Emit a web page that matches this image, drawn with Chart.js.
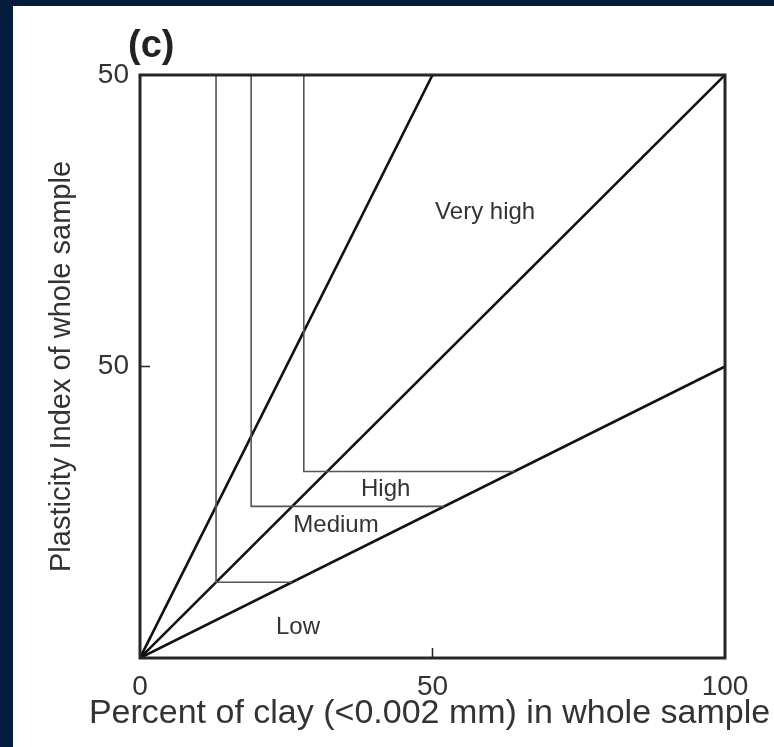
<!DOCTYPE html>
<html>
<head>
<meta charset="utf-8">
<script src="https://cdn.jsdelivr.net/npm/chart.js@4"></script>
<style>
  html, body { margin: 0; padding: 0; background: #041d3f; }
  #wrap { position: absolute; left: 13px; top: 6px; width: 761px; height: 741px; background: #fff; }
</style>
</head>
<body>
<div id="wrap"><canvas id="chart" width="761" height="741"></canvas></div>
<script>
// axis ticks (labels as printed in the figure)
const xTicks = [0, 50, 100];
const xTickLabels = ['0', '50', '100'];
const yTicks = [50, 100];
const yTickLabels = ['50', '50'];
const xTitle = 'Percent of clay (<0.002 mm) in whole sample';

// boundary lines from the origin (clay %, PI)
const steepLine = { x: [0, 50], y: [0, 100] };
const midLine = { x: [0, 100], y: [0, 100] };
const lowLine = { x: [0, 100], y: [0, 50] };

// step boundaries (vertical then horizontal)
const stepLow = { x: [13, 13, 26], y: [100, 13, 13] };
const stepMedium = { x: [19, 19, 52], y: [100, 26, 26] };
const stepHigh = { x: [28, 28, 64], y: [100, 32, 32] };

const regionNames = ['Very high', 'High', 'Medium', 'Low'];
const regionX = [59, 42, 33.5, 27];
const regionY = [76.5, 29, 22.8, 5.2];

const toPts = s => s.x.map((x, i) => ({ x, y: s.y[i] }));

const FONT = '"Liberation Sans", Arial, sans-serif';
const TEXT = '#333';

const lineSet = (s, w, c) => ({
  data: toPts(s), showLine: true, pointRadius: 0,
  borderColor: c, borderWidth: w, fill: false,
});

const frame = {
  id: 'frame',
  afterDatasetsDraw(chart) {
    const { ctx, chartArea: a, scales: { x, y } } = chart;
    ctx.save();
    ctx.strokeStyle = '#262626';
    ctx.lineWidth = 3;
    ctx.strokeRect(a.left, a.top, a.right - a.left, a.bottom - a.top);
    // inner tick marks
    ctx.lineWidth = 1.5;
    ctx.beginPath();
    const py = y.getPixelForValue(50);
    ctx.moveTo(a.left, py); ctx.lineTo(a.left + 10, py);
    const px = x.getPixelForValue(50);
    ctx.moveTo(px, a.bottom); ctx.lineTo(px, a.bottom - 10);
    ctx.stroke();
    // region labels
    ctx.fillStyle = TEXT;
    ctx.font = '24px ' + FONT;
    ctx.textAlign = 'center';
    ctx.textBaseline = 'middle';
    regionNames.forEach((n, i) => {
      ctx.fillText(n, x.getPixelForValue(regionX[i]), y.getPixelForValue(regionY[i]));
    });
    // x title, wider than the plot so drawn here (scale title gets squeezed)
    ctx.font = '34px ' + FONT;
    ctx.fillText(xTitle, (a.left + a.right) / 2 - 3, a.bottom + 56);
    // panel letter
    ctx.fillStyle = '#222';
    ctx.font = 'bold 38px ' + FONT;
    ctx.textAlign = 'left';
    ctx.fillText('(c)', a.left - 12, 41);
    ctx.restore();
  }
};

new Chart(document.getElementById('chart'), {
  type: 'scatter',
  data: {
    datasets: [
      lineSet(stepLow, 1.6, '#555'),
      lineSet(stepMedium, 1.6, '#555'),
      lineSet(stepHigh, 1.6, '#555'),
      lineSet(steepLine, 2.6, '#111'),
      lineSet(midLine, 2.6, '#111'),
      lineSet(lowLine, 2.6, '#111'),
    ],
  },
  options: {
    responsive: false,
    animation: false,
    layout: { padding: { top: 69, right: 49, left: 0, bottom: 0 } },
    plugins: { legend: { display: false }, tooltip: { enabled: false } },
    scales: {
      x: {
        type: 'linear', min: 0, max: 100,
        afterBuildTicks: s => { s.ticks = xTicks.map(v => ({ value: v })); },
        afterFit: s => { s.height = 89; },
        grid: { display: false, drawTicks: false },
        border: { display: false },
        ticks: {
          padding: 12, color: TEXT, font: { family: FONT, size: 28 },
          callback: v => xTickLabels[xTicks.indexOf(v)],
        },
      },
      y: {
        type: 'linear', min: 0, max: 100,
        afterBuildTicks: s => { s.ticks = yTicks.map(v => ({ value: v })); },
        afterFit: s => { s.width = 127; },
        grid: { display: false, drawTicks: false },
        border: { display: false },
        ticks: {
          padding: 11, color: TEXT, font: { family: FONT, size: 28 },
          callback: v => yTickLabels[yTicks.indexOf(v)],
        },
        title: {
          display: true, text: 'Plasticity Index of whole sample',
          color: TEXT, font: { family: FONT, size: 29 }, padding: { top: 32, bottom: 0 },
        },
      },
    },
  },
  plugins: [frame],
});
</script>
</body>
</html>
